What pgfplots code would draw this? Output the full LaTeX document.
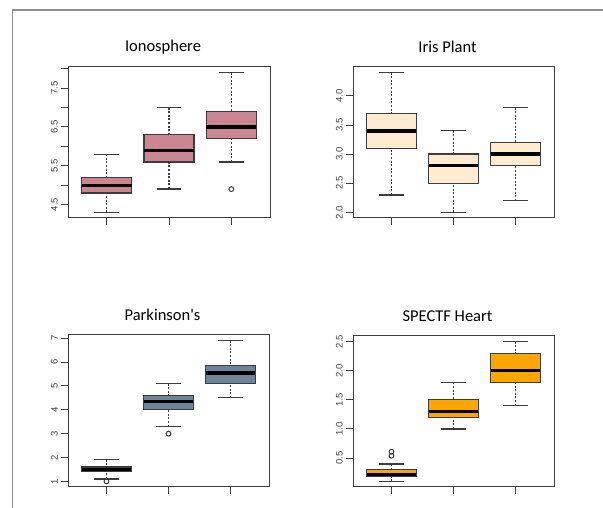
\documentclass[border=0pt]{standalone}
\usepackage{pgfplots}
\pgfplotsset{compat=1.18}
\usepgfplotslibrary{statistics}
\usepackage{fontspec}
\setmainfont{Liberation Sans}
\newfontfamily\carlito{Carlito}
\definecolor{iono}{RGB}{204,134,145}
\definecolor{iris}{RGB}{255,236,208}
\definecolor{park}{RGB}{108,133,155}
\definecolor{spect}{RGB}{255,165,0}
\definecolor{frame}{RGB}{60,60,60}
\pgfplotsset{
  rb/.style={
    scale only axis, width=201pt, height=151pt,
    xmin=0.38, xmax=3.62,
    xtick={1,2,3}, xticklabels={},
    tick align=outside, major tick length=7pt,
    xtick pos=bottom, ytick pos=left,
    axis line style={draw=frame, line width=1pt},
    tick style={draw=frame, line width=1pt},
    /pgf/number format/assume math mode=true,
    yticklabel style={rotate=90, anchor=south, font=\fontsize{9.5}{11}\selectfont, text=black!75, inner sep=1.5pt},
    yticklabel shift=1.5pt,
    title style={at={(0.5,1)}, anchor=center, yshift=14pt, xshift=-6pt, font=\carlito\fontsize{16.5}{19}\selectfont},
    boxplot/draw direction=y,
    boxplot/box extend=0.8,
    boxplot/whisker extend=0.4,
    boxplot/every median/.style={line width=3.4pt, draw=black},
    boxplot/every box/.style={draw=frame, line width=1.3pt},
    boxplot/draw/lower whisker/.code={%
      \draw[draw=frame, line width=1.2pt, dash pattern=on 2pt off 1.6pt]
        (boxplot box cs:\pgfplotsboxplotvalue{lower whisker},0.5) --
        (boxplot box cs:\pgfplotsboxplotvalue{lower quartile},0.5);
      \draw[draw=frame, line width=1.2pt]
        (boxplot whisker cs:\pgfplotsboxplotvalue{lower whisker},0) --
        (boxplot whisker cs:\pgfplotsboxplotvalue{lower whisker},1);
    },
    boxplot/draw/upper whisker/.code={%
      \draw[draw=frame, line width=1.2pt, dash pattern=on 2pt off 1.6pt]
        (boxplot box cs:\pgfplotsboxplotvalue{upper whisker},0.5) --
        (boxplot box cs:\pgfplotsboxplotvalue{upper quartile},0.5);
      \draw[draw=frame, line width=1.2pt]
        (boxplot whisker cs:\pgfplotsboxplotvalue{upper whisker},0) --
        (boxplot whisker cs:\pgfplotsboxplotvalue{upper whisker},1);
    },
  },
  bx/.style={mark=o, mark size=2.4pt, draw=frame, mark options={solid, draw=frame, line width=1pt}},
}
\begin{document}
\begin{tikzpicture}
\useasboundingbox (0pt,0pt) rectangle (603pt,508pt);
\draw[draw=black!45, line width=1.2pt] (12.7pt,0pt) -- (12.7pt,498pt) -- (603pt,498pt);

% Ionosphere
\begin{axis}[rb, at={(68pt,290pt)}, anchor=south west, width=202pt,
  ymin=4.156, ymax=8.044,
  ytick={4.5,5,5.5,6,6.5,7,7.5,8}, yticklabels={4.5,,5.5,,6.5,,7.5,},
  title={Ionosphere}]
\addplot[bx, boxplot prepared={lower whisker=4.3, lower quartile=4.8, median=5.0, upper quartile=5.2, upper whisker=5.8, draw position=1, every box/.append style={fill=iono}}] coordinates {};
\addplot[bx, boxplot prepared={lower whisker=4.9, lower quartile=5.6, median=5.9, upper quartile=6.3, upper whisker=7.0, draw position=2, every box/.append style={fill=iono}}] coordinates {};
\addplot[bx, boxplot prepared={lower whisker=5.6, lower quartile=6.2, median=6.5, upper quartile=6.9, upper whisker=7.9, draw position=3, every box/.append style={fill=iono}}] table[row sep=\\, y index=0] {data\\ 4.9\\};
\end{axis}

% Iris Plant
\begin{axis}[rb, at={(353pt,290pt)}, anchor=south west,
  ymin=1.904, ymax=4.496,
  ytick={2,2.5,3,3.5,4}, yticklabels={2.0,2.5,3.0,3.5,4.0},
  title={Iris Plant}]
\addplot[bx, boxplot prepared={lower whisker=2.3, lower quartile=3.1, median=3.4, upper quartile=3.7, upper whisker=4.4, draw position=1, every box/.append style={fill=iris}}] coordinates {};
\addplot[bx, boxplot prepared={lower whisker=2.0, lower quartile=2.5, median=2.8, upper quartile=3.0, upper whisker=3.4, draw position=2, every box/.append style={fill=iris}}] coordinates {};
\addplot[bx, boxplot prepared={lower whisker=2.2, lower quartile=2.8, median=3.0, upper quartile=3.2, upper whisker=3.8, draw position=3, every box/.append style={fill=iris}}] coordinates {};
\end{axis}

% Parkinson's
\begin{axis}[rb, at={(68pt,21pt)}, anchor=south west, height=152pt,
  ymin=0.764, ymax=7.136,
  ytick={1,2,3,4,5,6,7}, yticklabels={1,2,3,4,5,6,7},
  title={Parkinson's}]
\addplot[bx, boxplot prepared={lower whisker=1.1, lower quartile=1.4, median=1.5, upper quartile=1.6, upper whisker=1.9, draw position=1, every box/.append style={fill=park}}] table[row sep=\\, y index=0] {data\\ 1.0\\};
\addplot[bx, boxplot prepared={lower whisker=3.3, lower quartile=4.0, median=4.35, upper quartile=4.6, upper whisker=5.1, draw position=2, every box/.append style={fill=park}}] table[row sep=\\, y index=0] {data\\ 3.0\\};
\addplot[bx, boxplot prepared={lower whisker=4.5, lower quartile=5.1, median=5.55, upper quartile=5.85, upper whisker=6.9, draw position=3, every box/.append style={fill=park}}] coordinates {};
\end{axis}

% SPECTF Heart
\begin{axis}[rb, at={(353pt,21pt)}, anchor=south west,
  ymin=0.004, ymax=2.596,
  ytick={0.5,1,1.5,2,2.5}, yticklabels={0.5,1.0,1.5,2.0,2.5},
  title={SPECTF Heart}]
\addplot[bx, boxplot prepared={lower whisker=0.1, lower quartile=0.19, median=0.22, upper quartile=0.3, upper whisker=0.4, draw position=1, every box/.append style={fill=spect}}] table[row sep=\\, y index=0] {data\\ 0.54\\ 0.61\\};
\addplot[bx, boxplot prepared={lower whisker=1.0, lower quartile=1.2, median=1.3, upper quartile=1.5, upper whisker=1.8, draw position=2, every box/.append style={fill=spect}}] coordinates {};
\addplot[bx, boxplot prepared={lower whisker=1.4, lower quartile=1.8, median=2.0, upper quartile=2.3, upper whisker=2.5, draw position=3, every box/.append style={fill=spect}}] coordinates {};
\end{axis}
\end{tikzpicture}
\end{document}
